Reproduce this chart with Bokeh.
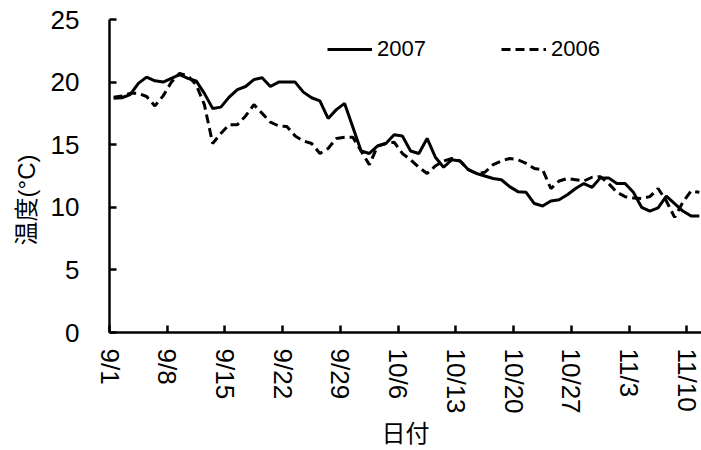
from bokeh.plotting import figure
from bokeh.models import Range1d, FixedTicker, Legend, LegendItem
from bokeh.embed import file_html
from bokeh.resources import INLINE

# day index 0 = 9/1, one value per day
temp_2007 = [18.7, 18.75, 19.0, 19.9, 20.4, 20.1, 20.0, 20.3, 20.6, 20.3,
             20.1, 19.1, 17.9, 18.0, 18.8, 19.4, 19.65, 20.2, 20.35, 19.65,
             20.0, 20.0, 20.0, 19.2, 18.75, 18.5, 17.1, 17.8, 18.3, 16.4,
             14.5, 14.3, 14.9, 15.1, 15.8, 15.7, 14.5, 14.3, 15.5, 14.0,
             13.2, 13.8, 13.7, 13.0, 12.7, 12.5, 12.3, 12.2, 11.65, 11.25,
             11.2, 10.3, 10.1, 10.5, 10.6, 11.0, 11.5, 11.9, 11.6, 12.35,
             12.35, 11.9, 11.9, 11.2, 10.0, 9.7, 9.95, 10.9, 10.3, 9.7,
             9.3, 9.3]
temp_2006 = [18.8, 18.9, 19.1, 19.1, 18.85, 18.1, 18.9, 20.0, 20.7, 20.5,
             19.8, 18.2, 15.1, 15.9, 16.6, 16.6, 17.3, 18.2, 17.5, 16.8,
             16.5, 16.45, 15.7, 15.3, 15.1, 14.3, 14.7, 15.5, 15.6, 15.6,
             14.5, 13.4, 14.9, 15.1, 15.2, 14.3, 13.8, 13.2, 12.7, 13.3,
             13.7, 13.9, 13.7, 13.0, 12.7, 12.8, 13.4, 13.7, 13.9, 13.8,
             13.5, 13.1, 13.0, 11.5, 12.1, 12.3, 12.2, 12.1, 12.4, 12.45,
             11.9, 11.2, 10.85, 10.75, 10.7, 10.85, 11.5, 10.5, 9.2, 10.4,
             11.3, 11.2]
tick_days = [0, 7, 14, 21, 28, 35, 42, 49, 56, 63, 70]
tick_labels = ["9/1", "9/8", "9/15", "9/22", "9/29", "10/6", "10/13",
               "10/20", "10/27", "11/3", "11/10"]
y_ticks = [0, 5, 10, 15, 20, 25]

x = [i + 0.5 for i in range(len(temp_2007))]

p = figure(width=701, height=450, output_backend="svg", toolbar_location=None,
           x_range=Range1d(0, 71.76), y_range=Range1d(0, 25),
           min_border_left=109, min_border_right=0, min_border_top=19,
           min_border_bottom=118)
p.outline_line_color = None
p.xgrid.grid_line_color = None
p.ygrid.grid_line_color = None
p.background_fill_color = "white"

num_font = "Liberation Sans"
lab_font = "Liberation Sans, Noto Sans CJK JP"

for ax in (p.xaxis[0], p.yaxis[0]):
    ax.axis_line_width = 2.5
    ax.axis_line_color = "black"
    ax.major_tick_line_width = 2.5
    ax.major_tick_line_color = "black"
    ax.major_tick_in = 7
    ax.major_tick_out = 0
    ax.minor_tick_line_color = None
    ax.major_label_text_font = num_font
    ax.major_label_text_font_size = "26px"
    ax.major_label_text_color = "black"
    ax.axis_label_text_font = lab_font
    ax.axis_label_text_font_style = "normal"
    ax.axis_label_text_font_size = "24px"
    ax.axis_label_text_color = "black"

p.xaxis.ticker = FixedTicker(ticks=tick_days)
p.xaxis.major_label_overrides = {d: l for d, l in zip(tick_days, tick_labels)}
p.xaxis.major_label_orientation = "vertical"
p.xaxis.major_label_standoff = 16
p.xaxis.axis_label = "日付"
p.xaxis.axis_label_standoff = 3

p.yaxis.ticker = FixedTicker(ticks=y_ticks)
p.yaxis.major_label_standoff = 30
p.yaxis.axis_label = "温度(°C)\u3000\u3000"
p.yaxis.axis_label_standoff = 8

r07 = p.line(x, temp_2007, line_color="black", line_width=3)
r06 = p.line(x, temp_2006, line_color="black", line_width=3, line_dash="9 5")

for item, loc in ((LegendItem(label="2007", renderers=[r07]), (218, 270)),
                  (LegendItem(label="2006", renderers=[r06]), (392, 270))):
    lg = Legend(items=[item], location=loc, padding=0, margin=0,
                border_line_alpha=0, background_fill_alpha=0,
                glyph_width=45, glyph_height=20, label_standoff=5,
                label_text_font=num_font, label_text_font_size="22px",
                label_text_color="black")
    p.add_layout(lg, "center")

open("out.html", "w").write(file_html(p, INLINE))
